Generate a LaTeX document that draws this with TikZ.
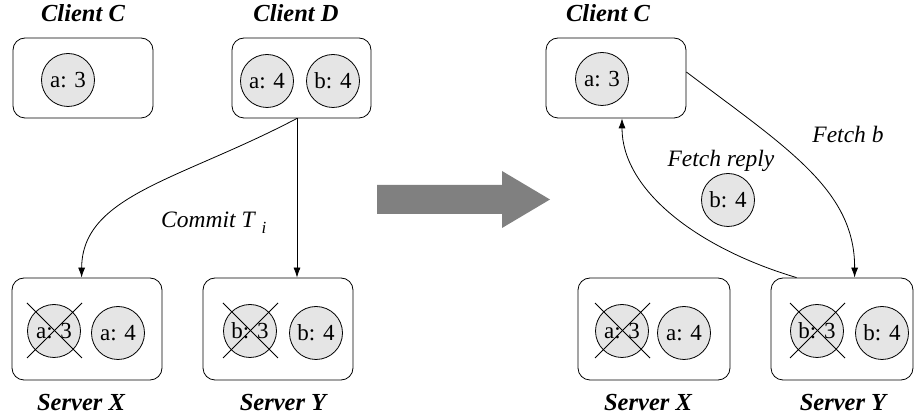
\documentclass[tikz,border=0pt]{standalone}
\usepackage{fontspec}
\setmainfont{Liberation Serif}
\usetikzlibrary{arrows.meta,calc}
\definecolor{bubble}{gray}{0.9}
\definecolor{bigarrow}{gray}{0.5}
\tikzset{
  box/.style={draw, line width=0.8pt, rounded corners=12pt, minimum height=80pt, inner sep=0pt},
  sbox/.style={box, minimum height=102pt},
  val/.style={draw, line width=0.8pt, circle, fill=bubble, minimum size=53pt, inner sep=0pt, font=\fontsize{23}{25}\selectfont},
  title/.style={anchor=base, font=\fontsize{24.5}{27}\selectfont\bfseries\itshape, inner sep=0pt},
  lab/.style={anchor=base, font=\fontsize{23.5}{26}\selectfont\itshape, inner sep=0pt},
  conn/.style={line width=0.8pt, -{Latex[length=10pt,width=7pt]}},
  xline/.style={line width=0.8pt}
}
\begin{document}
\begin{tikzpicture}[x=1pt,y=-1pt]
\useasboundingbox (0,0) rectangle (914,419);
% ---------- left half ----------
\node[box, minimum width=140pt] (cc1) at (83,78) {};
\node[val] (cc1a) at (68,80) {a: 3};
\node[title] (cc1t) at (83,22) {Client C};

\node[box, minimum width=139pt] (cd) at (301.5,78) {};
\node[val] (cda) at (267,81) {a: 4};
\node[val] (cdb) at (333,81) {b: 4};
\node[title] (cdt) at (296,22) {Client D};

\node[sbox, minimum width=150pt] (sx1) at (87,329) {};
\node[val] (sx1o) at (54,331) {a: 3};
\node[val] (sx1n) at (118,333) {a: 4};
\draw[xline] ($(sx1o)+(-27,-28)$) -- ($(sx1o)+(28,27)$);
\draw[xline] ($(sx1o)+(-27,27)$) -- ($(sx1o)+(28,-28)$);
\node[title] (sx1t) at (81,411) {Server X};

\node[sbox, minimum width=150pt] (sy1) at (278,329) {};
\node[val] (sy1o) at (250,331) {b: 3};
\node[val] (sy1n) at (316,333) {b: 4};
\draw[xline] ($(sy1o)+(-27,-28)$) -- ($(sy1o)+(28,27)$);
\draw[xline] ($(sy1o)+(-27,27)$) -- ($(sy1o)+(28,-28)$);
\node[title] (sy1t) at (283,411) {Server Y};

\coordinate (cdout) at ([xshift=-4.5pt]cd.south);
\coordinate (sx1in) at ([xshift=70pt]sx1.north west);
\draw[conn] (cdout) -- (cdout |- sy1.north);
\draw[conn] (cdout) .. controls (180,180) and (82,195) .. (sx1in);
\node[lab, anchor=base west] (commit) at (161,228) {Commit T\hspace{7pt}\raisebox{-6pt}{\fontsize{17}{17}\selectfont i}};

% ---------- big arrow ----------
\fill[bigarrow] (377,185) -- (502,185) -- (502,171) -- (550,199.5) -- (502,228) -- (502,214) -- (377,214) -- cycle;

% ---------- right half ----------
\node[box, minimum width=140pt] (cc2) at (616,78) {};
\node[val] (cc2a) at (602,79) {a: 3};
\node[title] (cc2t) at (608,22) {Client C};

\node[sbox, minimum width=152pt] (sx2) at (654,329) {};
\node[val] (sx2o) at (622,331) {a: 3};
\node[val] (sx2n) at (684,333) {a: 4};
\draw[xline] ($(sx2o)+(-27,-28)$) -- ($(sx2o)+(28,27)$);
\draw[xline] ($(sx2o)+(-27,27)$) -- ($(sx2o)+(28,-28)$);
\node[title] (sx2t) at (648,411) {Server X};

\node[sbox, minimum width=142pt] (sy2) at (842,329) {};
\node[val] (sy2o) at (817,331) {b: 3};
\node[val] (sy2n) at (882,333) {b: 4};
\draw[xline] ($(sy2o)+(-27,-28)$) -- ($(sy2o)+(28,27)$);
\draw[xline] ($(sy2o)+(-27,27)$) -- ($(sy2o)+(28,-28)$);
\node[title] (sy2t) at (843,411) {Server Y};

\node[val] (fb) at (728,200) {b: 4};

\coordinate (cc2out) at ([yshift=6pt]cc2.east);
\coordinate (sy2in) at ([xshift=84pt]sy2.north west);
\coordinate (sy2out) at ([xshift=26pt]sy2.north west);
\coordinate (cc2in) at ([xshift=6pt]cc2.south);
\draw[conn] (cc2out) .. controls (787,148) and (855,190) .. (sy2in);
\draw[conn] (sy2out) .. controls (697,248) and (622,190) .. (cc2in);
\node[lab] (fetchb) at (848,143) {Fetch b};
\node[lab] (fetchr) at (721,167) {Fetch reply};
\end{tikzpicture}
\end{document}
